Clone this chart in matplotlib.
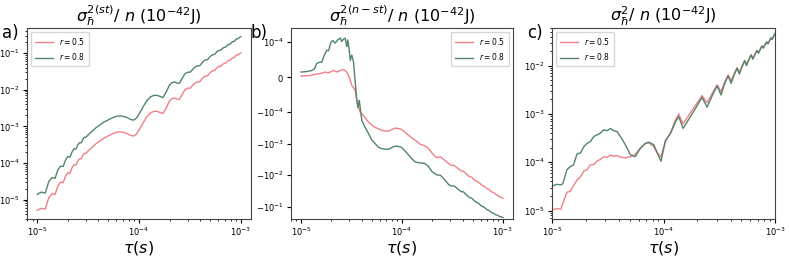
import numpy as np
import matplotlib.pyplot as plt

# tiempos en microsegundos
tau_a = [10, 11, 12, 13, 14, 15, 16, 17, 18, 19,
         20, 21, 22, 23, 24, 25, 26, 27, 28, 29,
         30, 32, 35, 38, 41, 45, 50, 55, 60, 65,
         70, 75, 80, 85, 90, 95, 100, 110, 120, 130,
         140, 150, 160, 172, 185, 200, 212, 225, 237, 250,
         265, 282, 300, 318, 340, 360, 378, 395, 415, 435,
         455, 472, 492, 512, 532, 550, 565, 590, 610, 628,
         648, 668, 686, 705, 725, 745, 763, 782, 802, 822,
         840, 860, 880, 900, 918, 938, 958, 978, 1000]
st_r05 = [5.1e-6, 5.8e-6, 5.5e-6, 1.12e-5, 1.45e-5, 1.38e-5, 2.4e-5, 3.0e-5, 2.9e-5, 4.4e-5,
          5.4e-5, 5.2e-5, 7.4e-5, 8.9e-5, 8.7e-5, 1.12e-4, 1.29e-4, 1.29e-4, 1.58e-4, 1.82e-4,
          1.82e-4, 2.2e-4, 2.75e-4, 3.4e-4, 3.9e-4, 4.7e-4, 5.5e-4, 6.3e-4, 6.9e-4, 7.1e-4,
          6.9e-4, 6.5e-4, 5.9e-4, 5.5e-4, 5.5e-4, 6.3e-4, 7.9e-4, 1.26e-3, 1.86e-3, 2.34e-3,
          2.57e-3, 2.57e-3, 2.4e-3, 2.24e-3, 3.16e-3, 5.0e-3, 5.75e-3, 5.9e-3, 5.5e-3, 5.5e-3,
          7.4e-3, 9.8e-3, 1.1e-2, 1.1e-2, 1.35e-2, 1.55e-2, 1.65e-2, 1.65e-2, 1.95e-2, 2.25e-2,
          2.4e-2, 2.4e-2, 2.8e-2, 3.1e-2, 3.3e-2, 3.3e-2, 3.6e-2, 4.1e-2, 4.3e-2, 4.3e-2,
          4.6e-2, 5.0e-2, 5.2e-2, 5.2e-2, 5.6e-2, 6.1e-2, 6.3e-2, 6.3e-2, 6.8e-2, 7.3e-2,
          7.5e-2, 7.5e-2, 8.1e-2, 8.7e-2, 8.9e-2, 8.9e-2, 9.4e-2, 9.9e-2, 1.02e-1]
st_r08 = [1.4e-5, 1.6e-5, 1.5e-5, 3.1e-5, 4.0e-5, 3.8e-5, 6.6e-5, 8.2e-5, 8.0e-5, 1.2e-4,
          1.5e-4, 1.43e-4, 2.0e-4, 2.45e-4, 2.4e-4, 3.1e-4, 3.55e-4, 3.55e-4, 4.3e-4, 5.0e-4,
          5.0e-4, 6.0e-4, 7.5e-4, 9.3e-4, 1.07e-3, 1.3e-3, 1.5e-3, 1.72e-3, 1.88e-3, 1.93e-3,
          1.88e-3, 1.78e-3, 1.62e-3, 1.5e-3, 1.5e-3, 1.72e-3, 2.15e-3, 3.45e-3, 5.1e-3, 6.4e-3,
          7.0e-3, 7.0e-3, 6.6e-3, 6.1e-3, 8.7e-3, 1.37e-2, 1.58e-2, 1.62e-2, 1.51e-2, 1.51e-2,
          2.03e-2, 2.7e-2, 3.0e-2, 3.0e-2, 3.7e-2, 4.25e-2, 4.5e-2, 4.5e-2, 5.35e-2, 6.2e-2,
          6.6e-2, 6.6e-2, 7.7e-2, 8.5e-2, 9.1e-2, 9.1e-2, 9.9e-2, 1.13e-1, 1.18e-1, 1.18e-1,
          1.27e-1, 1.37e-1, 1.43e-1, 1.43e-1, 1.54e-1, 1.68e-1, 1.73e-1, 1.73e-1, 1.87e-1, 2.0e-1,
          2.06e-1, 2.06e-1, 2.22e-1, 2.39e-1, 2.45e-1, 2.45e-1, 2.58e-1, 2.72e-1, 2.8e-1]

tau_b_r05 = [10, 11.5, 12.8, 13.8, 15.5, 17.3, 18.5, 20, 21, 22.6,
             24.4, 26.3, 28.4, 30, 31.8, 33.1, 34.4, 35.7, 37.1, 38.5,
             40, 43, 46.6, 52, 58.5, 65, 73.6, 80, 85.7, 92,
             98.5, 107, 116.6, 135.6, 152, 167, 180, 199, 220, 240,
             260, 291, 310, 330, 360, 385, 408, 438, 465, 488,
             515, 542, 565, 595, 620, 643, 672, 698, 722, 750,
             776, 800, 828, 854, 878, 905, 932, 956, 980, 1000]
nst_r05 = [3e-6, 4e-6, 6e-6, 8e-6, 1.0e-5, 1.45e-5, 1.2e-5, 1.6e-5, 1.9e-5, 1.45e-5,
           1.9e-5, 2.2e-5, 1.45e-5, 0.0, -2.4e-5, -3.0e-5, -3.9e-5, -6.5e-5, -8.7e-5, -1.0e-4,
           -1.13e-4, -1.5e-4, -2.07e-4, -2.8e-4, -3.4e-4, -3.9e-4, -4.0e-4, -3.5e-4, -3.2e-4, -3.3e-4,
           -3.5e-4, -4.3e-4, -5.5e-4, -7.9e-4, -1.05e-3, -1.15e-3, -1.35e-3, -2.0e-3, -2.8e-3, -2.6e-3,
           -3.2e-3, -4.3e-3, -4.9e-3, -4.9e-3, -6.2e-3, -7.3e-3, -7.6e-3, -9.3e-3, -1.1e-2, -1.15e-2,
           -1.35e-2, -1.55e-2, -1.6e-2, -1.85e-2, -2.1e-2, -2.15e-2, -2.45e-2, -2.7e-2, -2.75e-2, -3.1e-2,
           -3.4e-2, -3.45e-2, -3.8e-2, -4.15e-2, -4.2e-2, -4.55e-2, -4.9e-2, -4.95e-2, -5.2e-2, -5.35e-2]

tau_b_r08 = [10, 11.4, 12.8, 13.6, 14.3, 15.5, 16, 17, 18, 18.7,
             19.7, 20.6, 21.7, 23.1, 24.4, 25.3, 26.3, 27.3, 28.4, 29,
             30, 30.7, 31.8, 33.1, 34.4, 35.7, 36.6, 37.7, 38.9, 40,
             43, 46.6, 50, 54.2, 58.5, 63.2, 68, 73.6, 80, 85.7,
             92, 98.5, 107, 116.6, 125, 135.6, 145, 155, 167, 180,
             199, 222, 240, 260, 291, 310, 330, 360, 385, 408,
             438, 465, 488, 515, 542, 565, 595, 620, 643, 672,
             698, 722, 750, 776, 800, 828, 854, 878, 905, 932,
             956, 980, 1000]
nst_r08 = [1.45e-5, 1.6e-5, 1.9e-5, 2.4e-5, 3.9e-5, 4.3e-5, 4.2e-5, 6.3e-5, 7.7e-5, 7.5e-5,
           9.9e-5, 1.13e-4, 9.7e-5, 1.18e-4, 1.34e-4, 1.05e-4, 1.24e-4, 1.34e-4, 8.7e-5, 1.18e-4,
           7.7e-5, 4.8e-5, 6.3e-5, 4.3e-5, -1.45e-5, -6.8e-5, -8.7e-5, -6.6e-5, -9.7e-5, -1.83e-4,
           -3.0e-4, -4.8e-4, -7.5e-4, -1.0e-3, -1.3e-3, -1.44e-3, -1.5e-3, -1.5e-3, -1.3e-3, -1.2e-3,
           -1.22e-3, -1.3e-3, -1.7e-3, -2.3e-3, -3.0e-3, -3.8e-3, -4.0e-3, -4.1e-3, -4.2e-3, -5.0e-3,
           -7.8e-3, -9.8e-3, -1.0e-2, -1.3e-2, -2.0e-2, -2.2e-2, -2.2e-2, -2.8e-2, -3.3e-2, -3.4e-2,
           -4.3e-2, -5.1e-2, -5.3e-2, -6.2e-2, -7.2e-2, -7.5e-2, -8.7e-2, -9.8e-2, -1.0e-1, -1.13e-1,
           -1.25e-1, -1.28e-1, -1.42e-1, -1.55e-1, -1.58e-1, -1.7e-1, -1.82e-1, -1.85e-1, -1.95e-1, -2.05e-1,
           -2.08e-1, -2.15e-1, -2.2e-1]

tau_c = [10, 11, 12, 12.5, 13.6, 14.6, 15.6, 16.8, 18, 19.3,
         20.6, 22.1, 23.7, 25.4, 27.2, 29.1, 31.2, 33.4, 35.8, 38.4,
         41.1, 45.5, 50.5, 55.8, 62, 68.8, 73.8, 81.8, 88, 95,
         104, 116, 128, 137, 150, 185, 222, 246, 276, 303,
         328, 353, 380, 404, 430, 457, 479, 507, 534, 556,
         584, 611, 633, 661, 688, 710, 738, 765, 787, 815,
         842, 864, 892, 919, 941, 969, 1000]
tot_r05 = [1.03e-5, 1.1e-5, 1.07e-5, 1.4e-5, 2.4e-5, 2.5e-5, 3.3e-5, 4.3e-5, 5.0e-5, 6.6e-5,
           7.0e-5, 8.8e-5, 9.0e-5, 1.06e-4, 1.15e-4, 1.3e-4, 1.27e-4, 1.4e-4, 1.33e-4, 1.38e-4,
           1.28e-4, 1.23e-4, 1.3e-4, 1.47e-4, 1.95e-4, 2.45e-4, 2.55e-4, 2.1e-4, 1.55e-4, 1.3e-4,
           2.7e-4, 4.2e-4, 7.5e-4, 1.0e-3, 6.2e-4, 1.3e-3, 2.4e-3, 1.7e-3, 2.8e-3, 4.0e-3,
           2.9e-3, 4.5e-3, 6.4e-3, 4.9e-3, 6.8e-3, 9.1e-3, 7.3e-3, 9.9e-3, 1.28e-2, 1.07e-2,
           1.37e-2, 1.68e-2, 1.42e-2, 1.75e-2, 2.07e-2, 1.85e-2, 2.2e-2, 2.55e-2, 2.35e-2, 2.75e-2,
           3.1e-2, 2.85e-2, 3.3e-2, 3.75e-2, 3.5e-2, 4.05e-2, 4.5e-2]
tot_r08 = [3.2e-5, 3.5e-5, 3.4e-5, 3.6e-5, 7.0e-5, 8.1e-5, 8.8e-5, 1.5e-4, 1.55e-4, 2.1e-4,
           2.45e-4, 2.7e-4, 3.4e-4, 3.7e-4, 4.0e-4, 4.7e-4, 4.5e-4, 5.0e-4, 4.5e-4, 4.3e-4,
           3.4e-4, 2.3e-4, 1.42e-4, 1.31e-4, 1.95e-4, 2.45e-4, 2.6e-4, 2.3e-4, 1.55e-4, 1.05e-4,
           2.8e-4, 4.0e-4, 6.8e-4, 8.8e-4, 5.0e-4, 1.1e-3, 2.2e-3, 1.38e-3, 2.5e-3, 3.8e-3,
           2.47e-3, 4.2e-3, 6.1e-3, 4.3e-3, 6.4e-3, 8.8e-3, 6.7e-3, 9.5e-3, 1.25e-2, 1.0e-2,
           1.33e-2, 1.66e-2, 1.35e-2, 1.7e-2, 2.05e-2, 1.8e-2, 2.17e-2, 2.55e-2, 2.3e-2, 2.7e-2,
           3.1e-2, 2.8e-2, 3.25e-2, 3.75e-2, 3.45e-2, 4.0e-2, 4.6e-2]

col_05 = '#ef8088'
col_08 = '#52846a'
us = 1e-6

fig = plt.figure(figsize=(7.89, 2.56), dpi=100)
ax_a = fig.add_axes([27/789, 37/256, 224/789, 191/256])
ax_b = fig.add_axes([291/789, 37/256, 222/789, 191/256])
ax_c = fig.add_axes([552/789, 37/256, 223/789, 191/256])

ax_a.plot(np.array(tau_a) * us, st_r05, color=col_05, lw=1.0, label=r'$r=0.5$')
ax_a.plot(np.array(tau_a) * us, st_r08, color=col_08, lw=1.0, label=r'$r=0.8$')
ax_a.set_xscale('log')
ax_a.set_yscale('log')

ax_b.plot(np.array(tau_b_r05) * us, nst_r05, color=col_05, lw=1.0, label=r'$r=0.5$')
ax_b.plot(np.array(tau_b_r08) * us, nst_r08, color=col_08, lw=1.0, label=r'$r=0.8$')
ax_b.set_xscale('log')
ax_b.set_yscale('symlog', linthresh=1e-4)
ax_b.set_ylim(-0.245, 2.8e-4)

ax_c.plot(np.array(tau_c) * us, tot_r05, color=col_05, lw=1.0, label=r'$r=0.5$')
ax_c.plot(np.array(tau_c) * us, tot_r08, color=col_08, lw=1.0, label=r'$r=0.8$')
ax_c.set_xscale('log')
ax_c.set_yscale('log')
ax_c.set_xlim(1e-5, 1e-3)
ax_c.set_ylim(6.7e-6, 6.0e-2)

titles = [r'$\sigma_\hbar^{2(st)}/\ n\ (10^{-42}$J)',
          r'$\sigma_\hbar^{2(n-st)}/\ n\ (10^{-42}$J)',
          r'$\sigma_\hbar^{2}/\ n\ (10^{-42}$J)']
locs = ['upper left', 'upper right', 'upper left']
for ax, t, loc in zip([ax_a, ax_b, ax_c], titles, locs):
    ax.set_title(t, fontsize=11.5, pad=2)
    ax.set_xlabel(r'$\tau(s)$', fontsize=11.5, labelpad=0.5)
    ax.tick_params(labelsize=6, length=3, width=0.8, pad=2)
    ax.tick_params(which='minor', length=1.5, width=0.6)
    ax.legend(loc=loc, fontsize=5.5, handlelength=2.4, borderpad=0.5, labelspacing=0.6)
    for s in ax.spines.values():
        s.set_color('#444444')

fig.text(10/789, 1 - 33/256, 'a)', fontsize=12, ha='center', va='center')
fig.text(259/789, 1 - 33/256, 'b)', fontsize=12, ha='center', va='center')
fig.text(535/789, 1 - 33/256, 'c)', fontsize=12, ha='center', va='center')

plt.savefig('out.png', dpi=100)
